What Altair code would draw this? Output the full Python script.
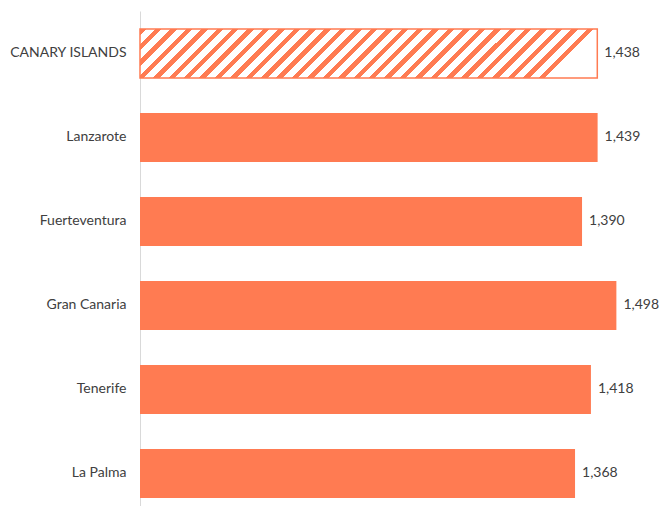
import altair as alt
import pandas as pd

regions = ["CANARY ISLANDS", "Lanzarote", "Fuerteventura", "Gran Canaria", "Tenerife", "La Palma"]
values = [1438, 1439, 1390, 1498, 1418, 1368]
labels = ["1,438", "1,439", "1,390", "1,498", "1,418", "1,368"]
is_total = [True, False, False, False, False, False]

df = pd.DataFrame({"region": regions, "value": values, "label": labels, "total": is_total})

ORANGE = "#FF7B52"

# diagonal hatch built as a sharp-stop linear gradient (style only)
W, H = 457.0, 49.0
r = H / W
n_stripes = 30
stripe = 0.42
stops = []
for k in range(n_stripes):
    a = k / n_stripes
    b = (k + stripe) / n_stripes
    c = (k + 1) / n_stripes
    stops += [
        alt.GradientStop(offset=round(a, 5), color=ORANGE),
        alt.GradientStop(offset=round(b, 5), color=ORANGE),
        alt.GradientStop(offset=round(b, 5), color="white"),
        alt.GradientStop(offset=round(c, 5), color="white"),
    ]
hatch = alt.LinearGradient(gradient="linear", x1=0, y1=0, x2=1, y2=r, stops=stops)

yscale = alt.Scale(paddingInner=0.4167, paddingOuter=0.155, align=0.69)
xscale = alt.Scale(domain=[0, 1588])

base = alt.Chart(df).encode(
    y=alt.Y("region:N", sort=regions, scale=yscale,
            axis=alt.Axis(title=None, ticks=False, labelPadding=14, domainColor="#d9d9d9",
                          domainWidth=1, labelFont="Lato", labelFontSize=14,
                          labelColor="#404040", grid=False)),
    x=alt.X("value:Q", scale=xscale, axis=None),
)

solid = base.transform_filter("!datum.total").mark_bar(color=ORANGE)
hatched = base.transform_filter("datum.total").mark_bar(fill=hatch, stroke=ORANGE, strokeWidth=1.5)
text = base.mark_text(align="left", dx=7, font="Lato", fontSize=14, color="#404040").encode(text="label:N")

chart = alt.layer(solid, hatched, text).properties(
    width=505, height=495,
    autosize=alt.AutoSizeParams(type="none"),
    padding={"left": 132, "top": 3, "right": 14, "bottom": 0},
).configure_view(stroke=None)

chart.save("out.html", embed_options={"renderer": "svg", "actions": False})
